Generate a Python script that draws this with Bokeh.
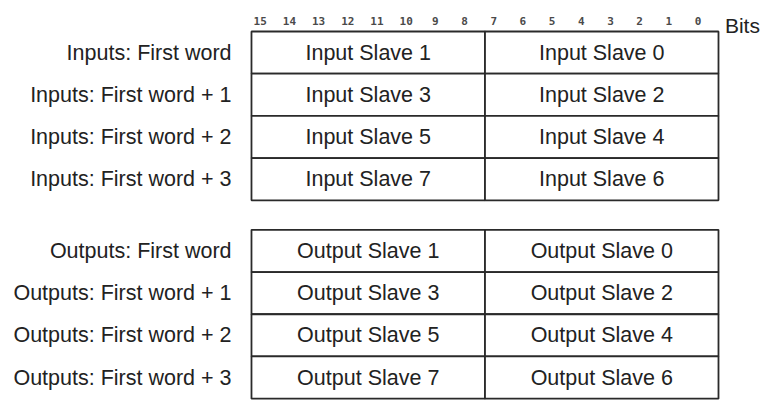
from bokeh.plotting import figure
from bokeh.models import Range1d, ColumnDataSource
from bokeh.core.properties import value
from bokeh.embed import file_html
from bokeh.resources import INLINE

# ---- data ----
bits = list(range(15, -1, -1))
bit_labels = [str(b) for b in bits]
bits_title = "Bits"

input_rows = ["Inputs: First word", "Inputs: First word + 1",
              "Inputs: First word + 2", "Inputs: First word + 3"]
input_high = ["Input Slave 1", "Input Slave 3", "Input Slave 5", "Input Slave 7"]
input_low = ["Input Slave 0", "Input Slave 2", "Input Slave 4", "Input Slave 6"]

output_rows = ["Outputs: First word", "Outputs: First word + 1",
               "Outputs: First word + 2", "Outputs: First word + 3"]
output_high = ["Output Slave 1", "Output Slave 3", "Output Slave 5", "Output Slave 7"]
output_low = ["Output Slave 0", "Output Slave 2", "Output Slave 4", "Output Slave 6"]

# ---- layout constants ----
W, H = 763, 400
GROUP_GAP = 0.7          # gap between the two blocks, in row units
FONT = value("Liberation Sans")
FS = "21.5px"
TXT = "#222222"
LINE = "#2a2a2a"

p = figure(width=W, height=H,
           x_range=Range1d(24.599, -1.542), y_range=Range1d(8.744, -0.735),
           output_backend="svg", toolbar_location=None, min_border=0,
           x_axis_location=None, y_axis_location=None)
p.grid.visible = False
p.outline_line_color = None
p.background_fill_color = "white"
p.border_fill_color = "white"

def block(rows, high, low, y0):
    n = len(rows)
    tops = [y0 + i for i in range(n)]
    bottoms = [t + 1 for t in tops]
    mids = [t + 0.5 for t in tops]
    cells = ColumnDataSource(dict(
        left=[16] * n + [8] * n, right=[8] * n + [0] * n,
        top=tops + tops, bottom=bottoms + bottoms,
        label=high + low, x=[12] * n + [4] * n, y=mids + mids))
    p.quad(left="left", right="right", top="top", bottom="bottom", source=cells,
           fill_color="white", line_color=LINE, line_width=1.8)
    p.text(x="x", y="y", text="label", source=cells, text_font=FONT,
           text_font_size=FS, text_color=TXT, text_align="center",
           text_baseline="middle")
    lab = ColumnDataSource(dict(x=[16.685] * n, y=mids, label=rows))
    p.text(x="x", y="y", text="label", source=lab, text_font=FONT,
           text_font_size=FS, text_color=TXT, text_align="right",
           text_baseline="middle")

block(input_rows, input_high, input_low, 0)
block(output_rows, output_high, output_low, len(input_rows) + GROUP_GAP)

# bit numbers above the first block
bsrc = ColumnDataSource(dict(x=[b + 0.7 for b in bits], y=[-0.26] * len(bits),
                             label=bit_labels))
p.text(x="x", y="y", text="label", source=bsrc, text_font=value("DejaVu Sans Mono"),
       text_font_size="11px", text_font_style="bold", text_color="#4a4a4a",
       text_align="center", text_baseline="alphabetic")

p.text(x=[-0.22], y=[-0.142], text=[bits_title], text_font=FONT,
       text_font_size="21px", text_color=TXT, text_align="left",
       text_baseline="alphabetic")

open("out.html", "w").write(file_html(p, INLINE))
